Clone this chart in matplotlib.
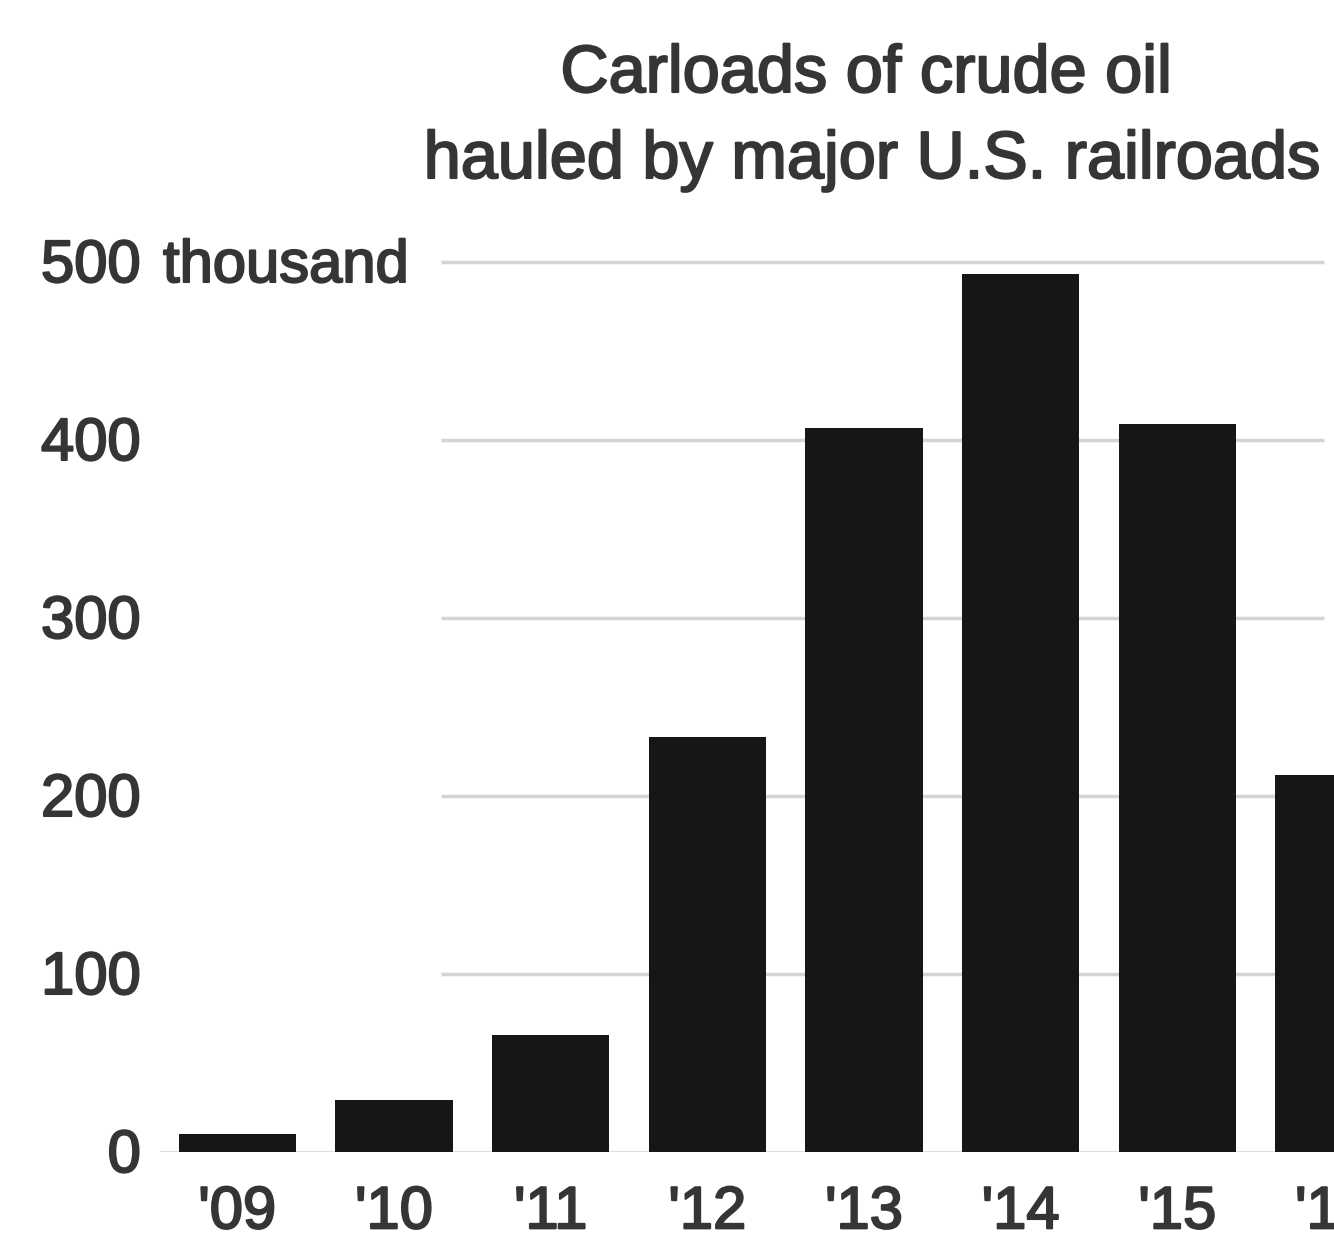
import matplotlib
matplotlib.use("Agg")
import matplotlib.pyplot as plt
import matplotlib.transforms as mtransforms
import matplotlib.patheffects as pe

years = ["'09", "'10", "'11", "'12", "'13", "'14", "'15", "'16"]
carloads = [10, 29, 66, 233, 407, 493, 409, 212]  # thousand
y_ticks = [0, 100, 200, 300, 400, 500]
y_labels = ["0", "100", "200", "300", "400", "500"]
title_lines = ["Carloads of crude oil", "hauled by major U.S. railroads"]

W, H, DPI = 1334, 1241, 100
plt.rcParams['font.family'] = ['Liberation Sans', 'DejaVu Sans']
fig = plt.figure(figsize=(W / DPI, H / DPI), dpi=DPI)

text_color = "#353535"
ink = [pe.withStroke(linewidth=1.5, foreground=text_color)]

# axes geometry in pixels
left_px, right_px = 160, 1334
zero_px, top_px = 1152, 226.4
ax = fig.add_axes([left_px / W, (H - zero_px) / H, (right_px - left_px) / W, (zero_px - top_px) / H])

x = list(range(len(years)))
ax.bar(x, carloads, width=0.75, color="#161616", zorder=3)
ax.set_xlim(-0.494, 6.937)
ax.set_ylim(0, 520)

for s in ax.spines.values():
    s.set_visible(False)
ax.set_yticks([])
ax.tick_params(axis='both', length=0)
# faint gridlines
ax.hlines(y_ticks[1:], 1.3, 6.937, color="#d4d4d4", linewidth=2.5, zorder=1)
ax.axhline(0, color="#e0e0e0", linewidth=1.5, zorder=1)

fs = 43
ax.set_xticks(x)
ax.set_xticklabels(years, fontsize=fs, color=text_color)
for t in ax.get_xticklabels():
    t.set_path_effects(ink)
ax.tick_params(axis='x', pad=24)

trans = mtransforms.blended_transform_factory(fig.transFigure, ax.transData)
trans_off = mtransforms.offset_copy(trans, fig=fig, x=0, y=-20, units='dots')
for v, lab in zip(y_ticks, y_labels):
    ax.text(141 / W, v, lab, transform=trans_off, ha='right', va='baseline',
            fontsize=fs, color=text_color, clip_on=False, path_effects=ink)
ax.text(163 / W, 500, "thousand", transform=trans_off, ha='left', va='baseline',
        fontsize=fs, color=text_color, clip_on=False, path_effects=ink)

fig.text(866 / W, 1 - 92 / H, title_lines[0], ha='center', va='baseline',
         fontsize=48, color=text_color, path_effects=ink)
fig.text(872 / W, 1 - 178 / H, title_lines[1], ha='center', va='baseline',
         fontsize=48, color=text_color, path_effects=ink)

fig.savefig("out.png", dpi=DPI, facecolor="white")
